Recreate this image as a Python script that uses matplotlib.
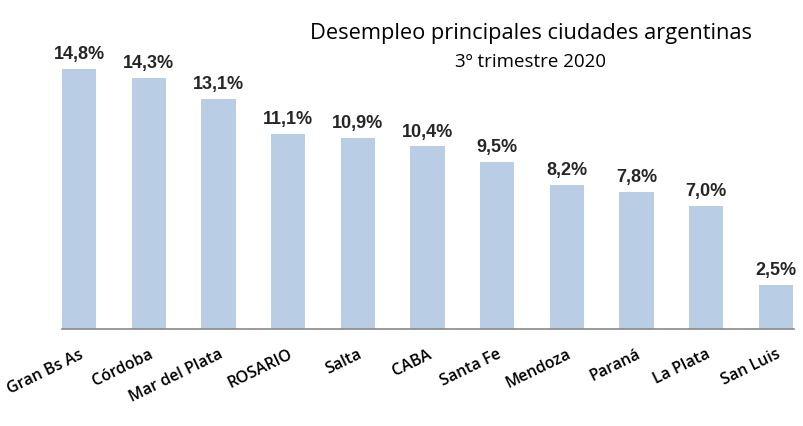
import numpy as np
import matplotlib
matplotlib.use("Agg")
import matplotlib.pyplot as plt

ciudades = ['Gran Bs As', 'Córdoba', 'Mar del Plata', 'ROSARIO', 'Salta', 'CABA',
            'Santa Fe', 'Mendoza', 'Paraná', 'La Plata', 'San Luis']
desempleo = [14.8, 14.3, 13.1, 11.1, 10.9, 10.4, 9.5, 8.2, 7.8, 7.0, 2.5]
etiquetas = ['14,8%', '14,3%', '13,1%', '11,1%', '10,9%', '10,4%', '9,5%', '8,2%', '7,8%', '7,0%', '2,5%']

fig = plt.figure(figsize=(8.04, 4.27), dpi=100)
ax = fig.add_axes([0.0771, 0.227, 0.9105, 0.679])

ind = np.arange(len(ciudades))
ax.bar(ind, desempleo, 0.49, color='#B9CDE5')
for x, v, t in zip(ind, desempleo, etiquetas):
    ax.text(x, v + 0.38, t, ha='center', va='bottom', fontsize=13, fontweight='bold',
            family='Liberation Sans', color='#262626')

ax.set_xlim(-0.245, 10.26)
ax.set_ylim(0, 16.5)
ax.set_yticks([])
ax.set_xticks(ind)
ax.set_xticklabels(ciudades, rotation=26, ha='right', rotation_mode='anchor',
                   fontsize=11.5, family='Open Sans', fontweight='semibold')
ax.tick_params(axis='x', length=0, pad=12)
for s in ['top', 'right', 'left']:
    ax.spines[s].set_visible(False)
ax.spines['bottom'].set_color('#898989')
ax.spines['bottom'].set_linewidth(1.2)

fig.text(0.66, 0.922, 'Desempleo principales ciudades argentinas', ha='center', va='center',
         fontsize=15.7, family='Open Sans')
fig.text(0.66, 0.855, '3º trimestre 2020', ha='center', va='center',
         fontsize=13.5, family='Open Sans')

fig.savefig('out.png', dpi=100)
